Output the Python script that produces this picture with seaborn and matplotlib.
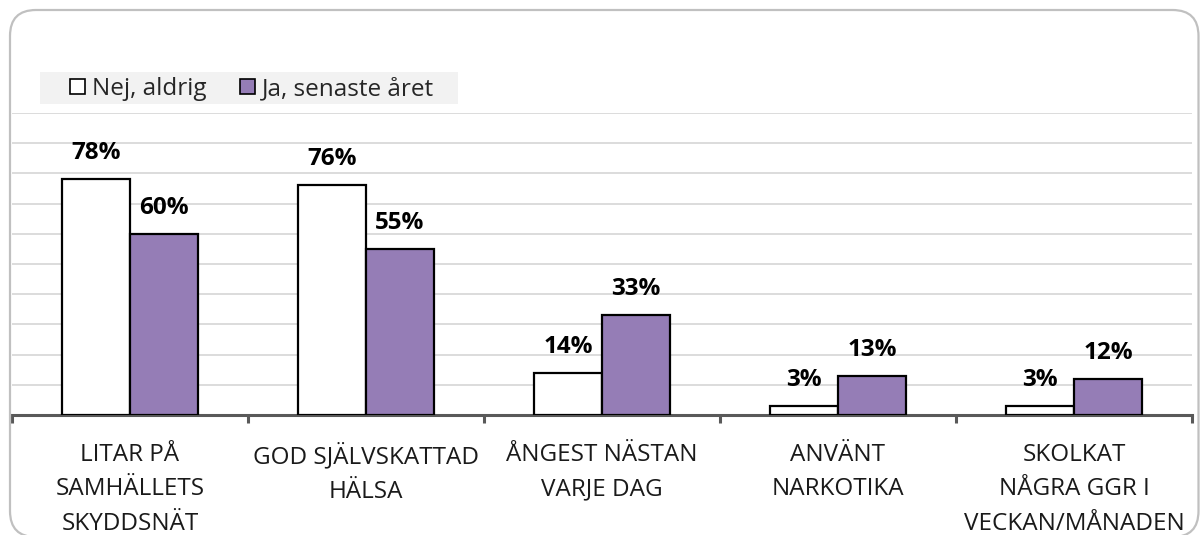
import pandas as pd
import matplotlib.pyplot as plt
import seaborn as sns
from matplotlib.patches import FancyBboxPatch, Patch, Rectangle
from matplotlib.transforms import IdentityTransform

# Data
categories = [
    "LITAR PÅ\nSAMHÄLLETS\nSKYDDSNÄT",
    "GOD SJÄLVSKATTAD\nHÄLSA",
    "ÅNGEST NÄSTAN\nVARJE DAG",
    "ANVÄNT\nNARKOTIKA",
    "SKOLKAT\nNÅGRA GGR I\nVECKAN/MÅNADEN",
]
series_names = ["Nej, aldrig", "Ja, senaste året"]
nej_aldrig = [78, 76, 14, 3, 3]
ja_senaste = [60, 55, 33, 13, 12]
colors = ["#ffffff", "#957db6"]

FONT = ["Open Sans", "DejaVu Sans"]
FS = 17.5


def main():
    sns.set_theme(style="white")
    plt.rcParams["font.family"] = FONT

    df = pd.DataFrame({
        "category": categories * 2,
        "series": [series_names[0]] * len(categories) + [series_names[1]] * len(categories),
        "value": nej_aldrig + ja_senaste,
    })

    fig = plt.figure(figsize=(12, 5.35), dpi=100)
    ax = fig.add_axes([12 / 1200, 120 / 535, 1180 / 1200, 302 / 535])

    sns.barplot(data=df, x="category", y="value", hue="series",
                hue_order=series_names, palette=dict(zip(series_names, colors)),
                edgecolor="black", linewidth=1.6, width=0.576, saturation=1,
                legend=False, ax=ax, zorder=3)

    ax.set_ylim(0, 100)
    ax.set_xlim(-0.5, len(categories) - 0.5)
    ax.set_yticks(range(10, 101, 10))
    ax.yaxis.grid(True, color="#d9d9d9", linewidth=1.3, zorder=0)
    ax.set_axisbelow(True)
    ax.tick_params(axis="y", left=False, labelleft=False)
    ax.set_xlabel("")
    ax.set_ylabel("")

    for side in ["top", "left", "right"]:
        ax.spines[side].set_visible(False)
    ax.spines["bottom"].set_color("#595959")
    ax.spines["bottom"].set_linewidth(2.2)

    # tick marks on category boundaries, labels on category centers
    ax.set_xticks([i - 0.5 for i in range(len(categories) + 1)])
    ax.set_xticklabels([""] * (len(categories) + 1))
    ax.tick_params(axis="x", which="major", direction="out", length=6,
                   width=2.2, color="#595959", bottom=True)
    ax.set_xticks(range(len(categories)), minor=True)
    ax.set_xticklabels(categories, minor=True, fontsize=FS, color="#1a1a1a")
    ax.tick_params(axis="x", which="minor", length=0, pad=20)
    for lbl in ax.get_xticklabels(minor=True):
        lbl.set_linespacing(1.58)

    # value labels
    for container in ax.containers:
        for bar in container:
            h = bar.get_height()
            ax.annotate(f"{h:.0f}%", (bar.get_x() + bar.get_width() / 2, h),
                        xytext=(0, 14.5), textcoords="offset points",
                        ha="center", va="baseline", fontsize=FS,
                        fontweight="bold", color="black")

    # legend with a light grey band behind it
    fig.patches.append(Rectangle((40 / 1200, (535 - 104) / 535), 418 / 1200, 32 / 535,
                                 transform=fig.transFigure, facecolor="#f2f2f2",
                                 edgecolor="none", zorder=0))
    handles = [Patch(facecolor=c, edgecolor="black", linewidth=1.2) for c in colors]
    fig.legend(handles, series_names, loc="center left",
               bbox_to_anchor=(70 / 1200, (535 - 89) / 535), ncol=2,
               frameon=False, fontsize=FS,
               handlelength=0.62, handleheight=0.62, handletextpad=0.3,
               columnspacing=1.35, borderpad=0, borderaxespad=0)

    # rounded chart-area border
    frame = FancyBboxPatch((10, -2), 1188.5, 527,
                           boxstyle="round,pad=0,rounding_size=26",
                           transform=IdentityTransform(), facecolor="none",
                           edgecolor="#c0c0c0", linewidth=1.6)
    fig.patches.append(frame)

    fig.savefig("out.png", dpi=100)
    plt.close(fig)


if __name__ == "__main__":
    main()
